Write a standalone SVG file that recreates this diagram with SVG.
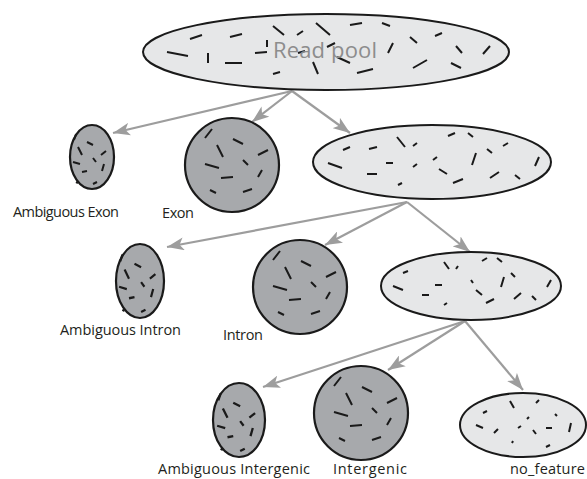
<svg xmlns="http://www.w3.org/2000/svg" xmlns:xlink="http://www.w3.org/1999/xlink" width="587" height="479" viewBox="0 0 587 479">
<style>
.light{fill:#e6e7e8;stroke:#1a1a1a;stroke-width:2}
.dark{fill:#a7a9ac;stroke:#1a1a1a;stroke-width:2.2}
.d{stroke:#1a1a1a;stroke-width:2;fill:none}
.arr{stroke:#9d9d9d;stroke-width:2.2;fill:none;marker-end:url(#ah)}
.lbl{font-family:"Open Sans","Liberation Sans",sans-serif;font-size:14.5px;fill:#231f20}
.title{font-family:"Open Sans","Liberation Sans",sans-serif;font-size:22px;fill:#8d8d8d}
</style>
<defs>
<marker id="ah" markerUnits="userSpaceOnUse" viewBox="0 0 16 12" refX="16" refY="6" markerWidth="17" markerHeight="13" orient="auto">
<path d="M0,0 L16,6 L0,12 L4,6 Z" fill="#9d9d9d"/>
</marker>
<path id="pdark" class="d" d="M-27,-27L-20,-36 M-15,-20L-9,-8 M1,-26L11,-21 M-27,-1L-13,3 M-11,13L1,12 M11,-5L16,0 M26,-10L36,-15 M26,12L30,5 M-22,25L-16,28 M11,27L20,24"/>
<path id="pamb" class="d" d="M-18,-17L-16,-23 M-5,-15L1,-12 M-14,-10L-10,-2 M9,-2L14,-6 M-19,5L-12,7 M1,1L4,5 M10,14L12,7 M-10,15L-5,14 M-16,25L-14,26 M1,27L5,25"/>
</defs>

<g id="connectors">
<line class="arr" x1="292" y1="91" x2="113" y2="133"/>
<line class="arr" x1="292" y1="91" x2="252" y2="122"/>
<line class="arr" x1="292" y1="91" x2="350" y2="133"/>
<line class="arr" x1="407" y1="202" x2="167" y2="247"/>
<line class="arr" x1="407" y1="202" x2="325" y2="245"/>
<line class="arr" x1="407" y1="202" x2="470" y2="252"/>
<line class="arr" x1="465" y1="321" x2="263" y2="387"/>
<line class="arr" x1="465" y1="321" x2="388" y2="370"/>
<line class="arr" x1="465" y1="321" x2="523" y2="390"/>
</g>

<g id="read-pool">
<ellipse class="light" cx="326" cy="52" rx="183" ry="38"/>
<path class="d" d="M167,52L188,56 M190,39L202,35 M208,53L208,63 M225,63L242,63 M230,37L242,34 M255,53L267,52 M267,40L267,47 M273,26L284,35 M297,35L303,31 M316,23L330,35 M298,53L305,51 M313,62L318,74 M327,47L335,43 M337,57L350,63 M350,25L362,23 M357,73L373,69 M273,74L280,72 M382,23L390,26 M388,53L393,43 M410,37L417,43 M413,68L427,60 M435,36L442,33 M456,46L462,53 M451,63L461,68 M483,54L490,46"/>
<text class="title" x="273" y="58" textLength="104">Read pool</text>
</g>

<g id="ambiguous-exon">
<ellipse class="dark" cx="92" cy="157" rx="22" ry="32"/>
<use xlink:href="#pamb" href="#pamb" transform="translate(92,157)"/>
<text class="lbl" x="13" y="217" textLength="106">Ambiguous Exon</text>
</g>

<g id="exon">
<circle class="dark" cx="232" cy="165" r="47"/>
<use xlink:href="#pdark" href="#pdark" transform="translate(232,165)"/>
<text class="lbl" x="162" y="218" textLength="32">Exon</text>
</g>

<g id="non-exon">
<ellipse class="light" cx="432" cy="162" rx="119" ry="37"/>
<path class="d" d="M328,163L342,168 M343,150L350,147 M369,149L377,147 M367,174L377,174 M386,163L393,163 M397,137L405,147 M413,146L417,143 M413,167L417,164 M398,185L402,183 M433,160L437,157 M439,169L447,174 M448,136L455,133 M453,183L463,179 M468,133L473,137 M472,165L476,153 M487,149L492,153 M490,178L499,172 M503,146L508,143 M515,175L520,179 M535,166L539,157"/>
</g>

<g id="ambiguous-intron">
<ellipse class="dark" cx="140" cy="281" rx="24" ry="37"/>
<use xlink:href="#pamb" href="#pamb" transform="translate(140,281) scale(1.1,1.15)"/>
<text class="lbl" x="60" y="335" textLength="121">Ambiguous Intron</text>
</g>

<g id="intron">
<circle class="dark" cx="300" cy="287" r="47"/>
<use xlink:href="#pdark" href="#pdark" transform="translate(300,287)"/>
<text class="lbl" x="223" y="340" textLength="40">Intron</text>
</g>

<g id="non-intron">
<ellipse class="light" cx="471" cy="286" rx="90" ry="34"/>
<path class="d" d="M393,286L403,290 M403,273L408,271 M422,295L429,295 M435,285L442,285 M444,262L449,269 M456,269L458,266 M444,305L447,303 M471,280L473,283 M476,290L482,295 M482,261L487,258 M486,303L494,299 M497,258L502,262 M501,287L504,277 M511,273L515,277 M514,299L521,293 M532,296L536,300 M547,287L551,280"/>
</g>

<g id="ambiguous-intergenic">
<ellipse class="dark" cx="239" cy="420" rx="26" ry="37"/>
<use xlink:href="#pamb" href="#pamb" transform="translate(239,420) scale(1.15,1.15)"/>
<text class="lbl" x="158" y="474" textLength="152">Ambiguous Intergenic</text>
</g>

<g id="intergenic">
<circle class="dark" cx="361" cy="413" r="47"/>
<use xlink:href="#pdark" href="#pdark" transform="translate(361,413)"/>
<text class="lbl" x="333" y="474" textLength="74">Intergenic</text>
</g>

<g id="no-feature">
<ellipse class="light" cx="523" cy="425" rx="63" ry="32"/>
<path class="d" d="M483,413L487,411 M476,425L483,428 M494,433L498,429 M510,401L514,408 M512,443L513,441 M518,428L521,426 M527,419L529,417 M533,430L536,434 M536,403L539,400 M546,428L552,428 M546,447L550,445 M555,414L557,416 M569,432L571,423"/>
<text class="lbl" x="510" y="474" textLength="75">no_feature</text>
</g>
</svg>
